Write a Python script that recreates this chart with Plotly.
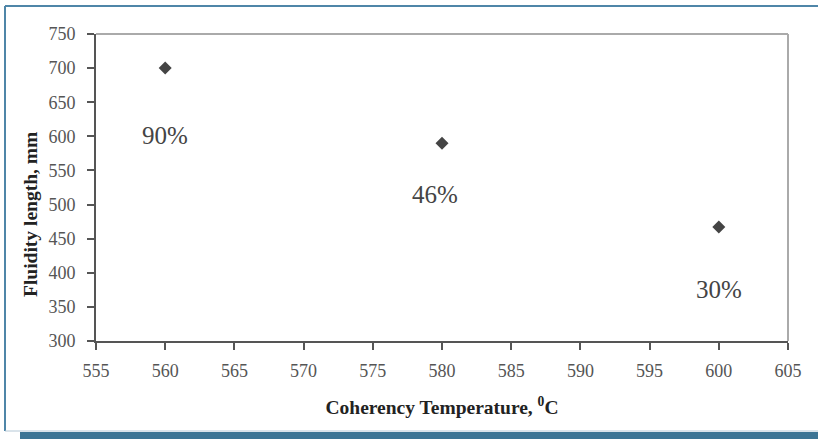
import plotly.graph_objects as go

temps = [560, 580, 600]
fluidity = [700, 590, 467]
labels = ["90%", "46%", "30%"]
label_x = [560, 579.5, 600]
label_y = [601, 515, 375]
x_ticks = list(range(555, 606, 5))
y_ticks = list(range(300, 751, 50))

W, H = 818, 439
L, R, T, B = 96, 30, 34, 98
pw, ph = W - L - R, H - T - B
def px(x):
    return (x - L) / pw
def py(y):
    return (H - B - y) / ph

fig = go.Figure()
fig.add_trace(go.Scatter(
    x=temps, y=fluidity, mode="markers",
    marker=dict(symbol="diamond", size=10, color="#444444"),
    showlegend=False, cliponaxis=False,
))

for t, xv, yv in zip(labels, label_x, label_y):
    fig.add_annotation(x=xv, y=yv, text=t, showarrow=False,
                       font=dict(family="Liberation Serif", size=25, color="#444444"))

axis_common = dict(showgrid=False, zeroline=False, ticks="outside", ticklen=7,
                   tickwidth=2, tickcolor="#555555", showline=True, linewidth=2,
                   linecolor="#555555",
                   tickfont=dict(family="Liberation Serif", size=18, color="#555555"))

fig.update_xaxes(range=[555, 605], tickvals=x_ticks, ticklabelstandoff=5, **axis_common,
                 title=dict(text="<b>Coherency Temperature, <sup>0</sup>C</b>",
                            font=dict(family="Liberation Serif", size=19.5, color="#222222"),
                            standoff=21))
fig.update_yaxes(range=[300, 750], tickvals=y_ticks, ticklabelstandoff=8, **axis_common)

# y-axis title placed as in the reference (offset below plot centre)
fig.add_annotation(xref="paper", yref="paper", x=px(30), y=py(215), text="<b>Fluidity length, mm</b>",
                   textangle=-90, showarrow=False, xanchor="center", yanchor="middle",
                   font=dict(family="Liberation Serif", size=19.5, color="#222222"))

# top / right light plot border
fig.add_shape(type="line", xref="paper", yref="paper", x0=0, x1=1, y0=1, y1=1,
              line=dict(color="#aaaaaa", width=2))
fig.add_shape(type="line", xref="paper", yref="paper", x0=1, x1=1, y0=0, y1=1,
              line=dict(color="#aaaaaa", width=2))

# outer frame
fig.add_shape(type="line", xref="paper", yref="paper", x0=px(5), x1=px(818), y0=py(6), y1=py(6),
              line=dict(color="#4f86a8", width=2))
fig.add_shape(type="line", xref="paper", yref="paper", x0=px(5), x1=px(5), y0=py(6), y1=py(431),
              line=dict(color="#4f86a8", width=2))
fig.add_shape(type="line", xref="paper", yref="paper", x0=px(5), x1=px(818), y0=py(431), y1=py(431),
              line=dict(color="#b5c8d6", width=1))
fig.add_shape(type="rect", xref="paper", yref="paper", x0=px(20), x1=px(818), y0=py(432), y1=py(439),
              line=dict(width=0), fillcolor="#3d7595")

fig.update_layout(width=W, height=H, margin=dict(l=L, r=R, t=T, b=B),
                  plot_bgcolor="white", paper_bgcolor="white")
fig.write_html("out.html", config={"displayModeBar": False},
               post_script="document.body.style.margin='0';document.body.style.overflow='hidden';")
